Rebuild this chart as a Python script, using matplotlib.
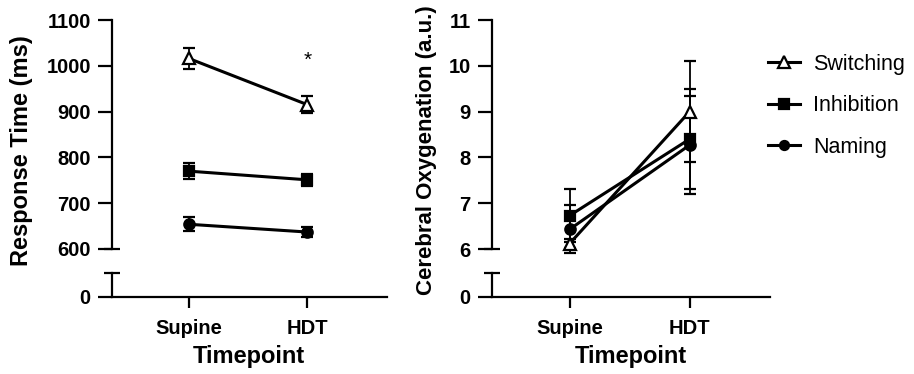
import numpy as np
import matplotlib
matplotlib.use("Agg")
import matplotlib.pyplot as plt
from matplotlib.lines import Line2D

plt.rcParams['font.family'] = ['Liberation Sans', 'DejaVu Sans']

# data
timepoints = ['Supine', 'HDT']
series = ['Switching', 'Inhibition', 'Naming']

rt_switching = [1016, 915]
rt_switching_err = [23, 19]
rt_inhibition = [770, 751]
rt_inhibition_err = [17, 13]
rt_naming = [654, 637]
rt_naming_err = [15, 10]

ox_switching = [6.12, 9.0]
ox_switching_err = [0.10, 1.10]
ox_inhibition = [6.73, 8.40]
ox_inhibition_err = [0.57, 1.10]
ox_naming = [6.43, 8.27]
ox_naming_err = [0.52, 1.06]

rt_ticks = [600, 700, 800, 900, 1000, 1100]
ox_ticks = [6, 7, 8, 9, 10, 11]

styles = {
    'Switching': dict(marker='^', mfc='white', ms=9),
    'Inhibition': dict(marker='s', mfc='black', ms=7.5),
    'Naming': dict(marker='o', mfc='black', ms=7.5),
}

W, H = 914, 374
TICK_FS = 14.5
LABEL_FS = 17
fig = plt.figure(figsize=(W / 100, H / 100), dpi=100)


def px_axes(x0, x1, ytop, ybot):
    return fig.add_axes([x0 / W, 1 - ybot / H, (x1 - x0) / W, (ybot - ytop) / H])


def panel(x0, x1, ylims, yticks, values, errs, ylabel, label_x, label_fs):
    up = px_axes(x0, x1, 20, 249)
    lo = px_axes(x0, x1, 273, 297)
    x = np.arange(len(timepoints))
    for name in series:
        st = styles[name]
        up.errorbar(x, values[name], yerr=errs[name], color='black', lw=2.2,
                    marker=st['marker'], mfc=st['mfc'], mec='black', mew=1.6,
                    ms=st['ms'], ecolor='black', elinewidth=1.3, capsize=4.5,
                    capthick=1.3, clip_on=False, zorder=3)
    for ax in (up, lo):
        ax.set_xlim(-0.65, 1.67)
        for s in ('top', 'right'):
            ax.spines[s].set_visible(False)
        ax.spines['left'].set_linewidth(1.6)
        ax.spines['bottom'].set_linewidth(1.6)
        ax.tick_params(axis='y', length=10, width=1.6, pad=5)
        ax.tick_params(axis='x', length=8, width=1.6, pad=8)
    up.spines['bottom'].set_visible(False)
    up.set_xticks([])
    up.set_ylim(*ylims)
    up.set_yticks(yticks)
    up.set_yticklabels([str(t) for t in yticks], fontweight='bold', fontsize=TICK_FS)
    lo.set_ylim(0, 1)
    lo.set_yticks([0])
    lo.set_yticklabels(['0'], fontweight='bold', fontsize=TICK_FS)
    lo.set_xticks(x)
    lo.set_xticklabels(timepoints, fontweight='bold', fontsize=TICK_FS)
    lo.set_xlabel('Timepoint', fontsize=LABEL_FS, fontweight='bold', labelpad=5)
    # break caps
    up.plot([0], [0], marker='_', ms=12, mew=1.6, color='black',
            transform=up.transAxes, clip_on=False)
    lo.plot([0], [1], marker='_', ms=12, mew=1.6, color='black',
            transform=lo.transAxes, clip_on=False)
    up.set_ylabel(ylabel, fontsize=label_fs, fontweight='bold')
    up.yaxis.set_label_coords(label_x, 0.43)
    return up, lo


rt_vals = {'Switching': rt_switching, 'Inhibition': rt_inhibition, 'Naming': rt_naming}
rt_errs = {'Switching': rt_switching_err, 'Inhibition': rt_inhibition_err, 'Naming': rt_naming_err}
ox_vals = {'Switching': ox_switching, 'Inhibition': ox_inhibition, 'Naming': ox_naming}
ox_errs = {'Switching': ox_switching_err, 'Inhibition': ox_inhibition_err, 'Naming': ox_naming_err}

up1, lo1 = panel(111.7, 387, (600, 1100), rt_ticks, rt_vals, rt_errs,
                 'Response Time (ms)', -0.286, LABEL_FS)
up2, lo2 = panel(491.7, 770, (6, 11), ox_ticks, ox_vals, ox_errs,
                 'Cerebral Oxygenation (a.u.)', -0.197, 16)

# significance marker
up1.text(1, 1012, '*', ha='center', va='center', fontsize=15)

handles = [Line2D([], [], color='black', lw=2.2, marker=styles[n]['marker'],
                  mfc=styles[n]['mfc'], mec='black', mew=1.6,
                  ms=styles[n]['ms'] - 1) for n in series]
fig.legend(handles, series, loc='upper left', bbox_to_anchor=(768 / W, 1 - 54 / H),
           frameon=False, fontsize=15.5, handlelength=1.5, labelspacing=0.95,
           handletextpad=0.6, borderaxespad=0, borderpad=0)

fig.savefig('out.png', dpi=100, facecolor='white')
